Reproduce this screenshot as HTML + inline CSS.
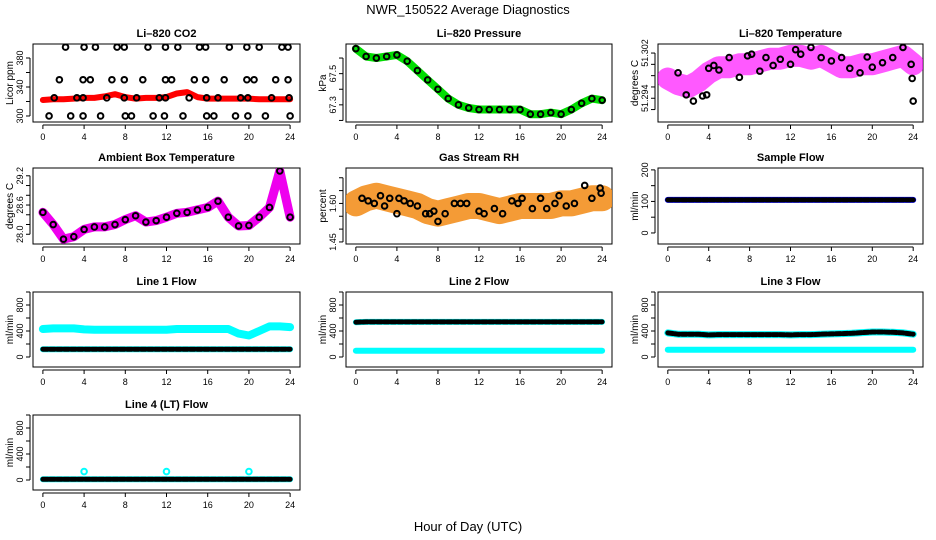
<!DOCTYPE html>
<html><head><meta charset="utf-8"><style>
html,body{margin:0;padding:0;background:#fff;}
svg{display:block;font-family:"Liberation Sans",sans-serif;}
</style></head><body>
<svg id="chart" width="936" height="540" viewBox="0 0 936 540">
<text x="468" y="14" text-anchor="middle" font-size="13">NWR_150522  Average Diagnostics</text>
<text x="468" y="531" text-anchor="middle" font-size="13">Hour of Day (UTC)</text>
</svg>
<script>
const hours = [0,1,2,3,4,5,6,7,8,9,10,11,12,13,14,15,16,17,18,19,20,21,22,23,24];
const xTicks = [0,4,8,12,16,20,24];

const co2Mean = [322,323,323,324,325,325,327,330,326,324,325,325,326,331,333,326,324,324,324,324,324,323,323,323,323];
const co2BlackHours = [2.2,4.0,5.1,7.2,7.9,10.2,11.9,13.1,15.2,15.8,18.1,19.8,21.0,23.2,23.8,
 1.6,3.9,4.6,6.7,7.9,9.7,11.9,12.5,14.7,15.8,17.6,19.8,20.5,22.6,23.8,
 1.1,3.3,3.9,6.2,7.9,9.1,11.3,11.9,14.2,15.9,17.0,19.2,19.9,22.2,23.9,
 0.6,2.7,3.9,5.6,8.0,8.6,10.7,11.8,13.6,15.9,16.6,18.7,19.9,21.6,24.0];
const co2BlackVals = [395,395,395,395,395,395,395,395,395,395,395,395,395,395,395,
 350,350,350,350,350,350,350,350,350,350,350,350,350,350,350,
 325,325,325,325,325,325,325,325,325,325,325,325,325,325,325,
 300,300,300,300,300,300,300,300,300,300,300,300,300,300,300];

const pressMean = [67.66,67.61,67.60,67.61,67.62,67.58,67.52,67.46,67.40,67.34,67.30,67.28,67.27,67.27,67.27,67.27,67.27,67.24,67.24,67.25,67.24,67.27,67.31,67.34,67.33];

const tempMean = [51.2975,51.2965,51.296,51.297,51.2985,51.2995,51.2995,51.3,51.3,51.3005,51.301,51.301,51.3015,51.3015,51.301,51.3015,51.3005,51.2995,51.2995,51.3,51.3,51.3005,51.301,51.3015,51.3];
const tempBlackHours = [1,1.8,2.5,3.4,3.8,4,4.5,5,6,7,7.8,8.2,9,9.6,10.3,11,12,12.5,13,14,15,16,17,17.8,18.8,19.5,20,21,22,23,23.8,23.9,24];
const tempBlackVals = [51.2985,51.2946,51.2935,51.2944,51.2946,51.2993,51.2998,51.299,51.3012,51.2977,51.3015,51.3018,51.2988,51.3012,51.2998,51.3009,51.3,51.3026,51.3018,51.303,51.3012,51.3006,51.3012,51.2993,51.2985,51.3013,51.2995,51.3003,51.3012,51.303,51.3,51.2975,51.2935];

const ambMean = [28.45,28.2,27.9,27.95,28.1,28.15,28.15,28.2,28.3,28.38,28.25,28.28,28.35,28.43,28.45,28.5,28.55,28.68,28.35,28.17,28.18,28.35,28.55,29.3,28.35];

const rhMean = [1.60,1.62,1.63,1.62,1.61,1.60,1.59,1.57,1.56,1.57,1.58,1.59,1.59,1.58,1.57,1.58,1.59,1.59,1.59,1.59,1.60,1.60,1.61,1.62,1.62];
const rhBlackHours = [0.6,1.2,1.8,2.4,2.8,3.3,4.0,4.2,4.7,5.3,6.0,6.8,7.2,7.6,8.0,8.7,9.6,10.2,10.8,12.0,12.5,13.5,14.3,15.2,15.8,16.2,17.2,18.0,18.6,19.4,19.8,20.5,21.3,22.3,23.0,23.8,23.9];
const rhBlackVals = [1.62,1.61,1.60,1.63,1.59,1.62,1.56,1.62,1.61,1.60,1.59,1.56,1.56,1.57,1.53,1.56,1.60,1.60,1.60,1.57,1.56,1.58,1.56,1.61,1.60,1.62,1.58,1.62,1.58,1.60,1.63,1.59,1.60,1.67,1.62,1.66,1.64];

const sampleFlow = [105,105,105,105,105,105,105,105,105,105,105,105,105,105,105,105,105,105,105,105,105,105,105,105,105];
const line1Hi = [430,440,440,440,425,420,420,420,420,420,420,420,420,430,430,430,430,430,430,360,330,400,470,470,460];
const line1Lo = [120,120,120,120,120,120,120,120,120,120,120,120,120,120,120,120,120,120,120,120,120,120,120,120,120];
const line2Hi = [535,540,540,540,540,540,540,540,540,540,540,540,540,540,540,540,540,540,540,540,540,540,540,540,540];
const line2Lo = [95,95,95,95,95,95,95,95,95,95,95,95,95,95,95,95,95,95,95,95,95,95,95,95,95];
const line3Hi = [370,350,350,350,340,345,345,345,345,345,345,345,340,345,345,350,355,360,365,375,385,385,380,370,350];
const line3Lo = [110,110,110,110,110,110,110,110,110,110,110,110,110,110,110,110,110,110,110,110,110,110,110,110,110];
const line4Flow = [10,10,10,10,10,10,10,10,10,10,10,10,10,10,10,10,10,10,10,10,10,10,10,10,10];
const line4BlipHours = [4,12,20];
const line4BlipVals = [130,130,130];

const NS = "http://www.w3.org/2000/svg";
const svg = document.getElementById('chart');
const cols = [[33,300],[346,612],[658,923]];
const rows = [[44,122],[168,244],[292,367],[415,490]];

function mk(tag, attrs, parent){
  const e = document.createElementNS(NS, tag);
  for (const k in attrs) e.setAttribute(k, attrs[k]);
  (parent||svg).appendChild(e);
  return e;
}

function panel(name, col, row, title, ylab, ylim, yTicks, yLabels){
  const [L,R] = cols[col], [T,B] = rows[row];
  const g = mk('g', {});
  
  
  const xs = h => L + (h + 0.96) / 25.92 * (R - L);
  const ys = v => B - (v - ylim[0]) / (ylim[1] - ylim[0]) * (B - T);
  const t = mk('text', {x:(L+R)/2, y:T-7, 'text-anchor':'middle', 'font-size':11, 'font-weight':'bold'}, g);
  t.textContent = title;
  
  
  const yl = mk('text', {x:0, y:0, 'text-anchor':'middle', 'font-size':10, transform:`translate(${L-20},${(T+B)/2}) rotate(-90)`}, g);
  yl.textContent = ylab;
  
  
  const box = mk('rect', {x:L, y:T, width:R-L, height:B-T, fill:'none', stroke:'#000', 'stroke-width':1}, g);
  
  
  const xa = mk('g', {}, g);
  
  
  mk('line', {x1:xs(0), x2:xs(24), y1:B+3, y2:B+3, stroke:'#000'}, xa);
  xTicks.forEach(h => {
    mk('line', {x1:xs(h), x2:xs(h), y1:B+3, y2:B+7, stroke:'#000'}, xa);
    const tl = mk('text', {x:xs(h), y:B+18, 'text-anchor':'middle', 'font-size':9}, xa);
    tl.textContent = h;
  });
  const ya = mk('g', {}, g);
  
  
  mk('line', {x1:L-3, x2:L-3, y1:ys(yTicks[0]), y2:ys(yTicks[yTicks.length-1]), stroke:'#000'}, ya);
  yTicks.forEach(v => mk('line', {x1:L-7, x2:L-3, y1:ys(v), y2:ys(v), stroke:'#000'}, ya));
  yLabels.forEach(v => {
    const tl = mk('text', {x:0, y:0, 'text-anchor':'middle', 'font-size':9, transform:`translate(${L-10},${ys(v)}) rotate(-90)`}, ya);
    tl.textContent = String(v);
  });
  const clipId = 'clip-' + name;
  const cp = mk('clipPath', {id:clipId}, g);
  mk('rect', {x:L, y:T, width:R-L, height:B-T}, cp);
  const data = mk('g', {'clip-path':`url(#${clipId})`}, g);
  return {xs, ys, g:data};
}

function band(p, name, xsArr, vals, color, w, opacity, dash){
  const pts = xsArr.map((h,i) => p.xs(h).toFixed(1) + ',' + p.ys(vals[i]).toFixed(1)).join(' ');
  const pl = mk('polyline', {points:pts, fill:'none', stroke:color, 'stroke-width':w, 'stroke-linejoin':'round', 'stroke-linecap':'round', opacity:opacity||1}, p.g);
  if (dash) pl.setAttribute('stroke-dasharray', dash);
  
  
}
function points(p, name, xsArr, vals, color, r){
  xsArr.forEach((h,i) => {
    const c = mk('circle', {cx:p.xs(h), cy:p.ys(vals[i]), r:r||2.8, fill:'none', stroke:color, 'stroke-width':2}, p.g);
    
    
  });
}

let p = panel('co2', 0, 0, 'Li\u2013820 CO2', 'Licor ppm', [291.7,399.3], [300,320,340,360,380], [300,340,380]);
band(p, 'co2-series', hours, co2Mean, '#f00', 6);
points(p, 'co2-sample-point', co2BlackHours, co2BlackVals, '#000');

p = panel('pressure', 1, 0, 'Li\u2013820 Pressure', 'kPa', [67.19,67.69], [67.2,67.3,67.4,67.5,67.6], [67.3,67.5]);
band(p, 'pressure-series', hours, pressMean, '#0d0', 8);
points(p, 'pressure-sample-point', hours, pressMean, '#000');

p = panel('li820-temp', 2, 0, 'Li\u2013820 Temperature', 'degrees C', [51.2898,51.3036], [51.292,51.294,51.296,51.298,51.3,51.302], [51.294,51.302]);
band(p, 'li820-temp-series', hours, tempMean, '#f0f', 22, 0.65);
points(p, 'li820-temp-sample-point', tempBlackHours, tempBlackVals, '#000');

p = panel('ambient-temp', 0, 1, 'Ambient Box Temperature', 'degrees C', [27.8,29.36], [28.0,28.2,28.4,28.6,28.8,29.0,29.2], ['28.0','28.6','29.2']);
band(p, 'ambient-temp-series', hours, ambMean, '#e0e', 9);
points(p, 'ambient-temp-sample-point', hours, ambMean, '#000');

p = panel('gas-rh', 1, 1, 'Gas Stream RH', 'percent', [1.442,1.738], [1.45,1.5,1.55,1.6,1.65,1.7], ['1.45','1.60']);
band(p, 'gas-rh-series', hours, rhMean, '#f39020', 26, 0.9);
points(p, 'gas-rh-sample-point', rhBlackHours, rhBlackVals, '#000');

p = panel('sample-flow', 2, 1, 'Sample Flow', 'ml/min', [-35,206], [0,50,100,150,200], [0,100,200]);
band(p, 'sample-flow-series', hours, sampleFlow, '#00f', 6);
band(p, 'sample-flow-sample-points', hours, sampleFlow, '#000', 5, 1, '5 2');

const fTicks = [0,200,400,600,800,1000], fLabels = [0,400,800], fLim = [-154,1000];
p = panel('line1-flow', 0, 2, 'Line 1 Flow', 'ml/min', fLim, fTicks, fLabels);
band(p, 'line1-flow-high-series', hours, line1Hi, '#0ff', 8);
band(p, 'line1-flow-low-series', hours, line1Lo, '#0ff', 6);
band(p, 'line1-flow-sample-points', hours, line1Lo, '#000', 5, 1, '5 2');
p = panel('line2-flow', 1, 2, 'Line 2 Flow', 'ml/min', fLim, fTicks, fLabels);
band(p, 'line2-flow-low-series', hours, line2Lo, '#0ff', 6);
band(p, 'line2-flow-high-series', hours, line2Hi, '#0ff', 6);
band(p, 'line2-flow-sample-points', hours, line2Hi, '#000', 5, 1, '5 2');
p = panel('line3-flow', 2, 2, 'Line 3 Flow', 'ml/min', fLim, fTicks, fLabels);
band(p, 'line3-flow-low-series', hours, line3Lo, '#0ff', 6);
band(p, 'line3-flow-high-series', hours, line3Hi, '#0ff', 7);
band(p, 'line3-flow-sample-points', hours, line3Hi, '#000', 5, 1, '5 2');
p = panel('line4-flow', 0, 3, 'Line 4 (LT) Flow', 'ml/min', fLim, fTicks, fLabels);
band(p, 'line4-flow-series', hours, line4Flow, '#0ff', 6);
band(p, 'line4-flow-sample-points', hours, line4Flow, '#000', 5, 1, '5 2');
points(p, 'line4-flow-blip', line4BlipHours, line4BlipVals, '#0ff');
</script>
</body></html>
